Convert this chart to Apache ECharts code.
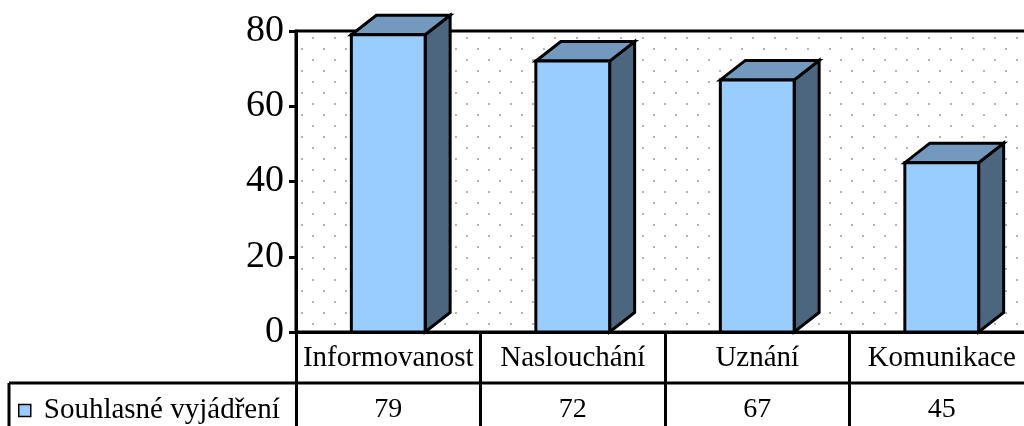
<!DOCTYPE html>
<html>
<head>
<meta charset="utf-8">
<script src="https://cdn.jsdelivr.net/npm/echarts@6/dist/echarts.min.js"></script>
<style>html,body{margin:0;padding:0;background:#fff;overflow:hidden}#c{width:1034px;height:426px}</style>
</head>
<body>
<div id="c"></div>
<script>
const categories = ['Informovanost', 'Naslouchání', 'Uznání', 'Komunikace'];
const values = [79, 72, 67, 45];
const seriesName = 'Souhlasné vyjádření';
const yMin = 0, yMax = 80, yInterval = 20;

const FONT = "'Liberation Serif', 'Times New Roman', serif";

// dotted background pattern
const pc = document.createElement('canvas');
pc.width = 22; pc.height = 22;
const pctx = pc.getContext('2d');
pctx.fillStyle = '#fff'; pctx.fillRect(0, 0, 22, 22);
pctx.fillStyle = '#b4b4b4';
pctx.fillRect(4, 15, 2, 2);
pctx.fillRect(15, 4, 2, 2);

const chart = echarts.init(document.getElementById('c'), null, {renderer: 'canvas'});

const DX = 25, DY = 19.5;
const LW = 3;

chart.setOption({
  backgroundColor: '#fff',
  animation: false,
  grid: {
    left: 296, top: 31, right: 0, height: 301,
    show: true, borderColor: '#000', borderWidth: LW,
    backgroundColor: {image: pc, repeat: 'repeat'}
  },
  legend: {
    left: 18, top: 396, padding: 0,
    itemWidth: 12, itemHeight: 12,
    data: [{name: seriesName, icon: 'rect', itemStyle: {color: '#99CCFF', borderColor: '#000', borderWidth: 1.5}}],
    textStyle: {fontFamily: FONT, fontSize: 29, color: '#000', padding: [6, 0, 0, 8]}
  },
  xAxis: {
    type: 'category', data: categories, boundaryGap: true,
    axisLine: {show: true, lineStyle: {color: '#000', width: LW}},
    axisTick: {show: true, interval: 0, length: 94, lineStyle: {color: '#000', width: LW}},
    axisLabel: {interval: 0, fontFamily: FONT, fontSize: 29, color: '#000', margin: 12},
    splitLine: {show: false}
  },
  yAxis: {
    type: 'value', min: yMin, max: yMax, interval: yInterval,
    axisLine: {show: true, lineStyle: {color: '#000', width: LW}},
    axisTick: {show: true, length: 7, lineStyle: {color: '#000', width: LW}},
    axisLabel: {fontFamily: FONT, fontSize: 38, color: '#000', margin: 12},
    splitLine: {show: false}
  },
  graphic: [
    {type: 'line', shape: {x1: 9, y1: 383, x2: 1034, y2: 383}, style: {stroke: '#000', lineWidth: LW}, z: 100},
    {type: 'line', shape: {x1: 9, y1: 383, x2: 9, y2: 430}, style: {stroke: '#000', lineWidth: LW}, z: 100}
  ],
  series: [{
    type: 'custom',
    name: seriesName,
    clip: false,
    itemStyle: {color: '#99CCFF'},
    data: values.map((v, i) => [i, v]),
    renderItem: function (params, api) {
      const i = api.value(0), v = api.value(1);
      const base = api.coord([i, 0]);
      const top = api.coord([i, v]);
      const bw = api.size([1, 0])[0] * 0.4;
      const x0 = base[0] - bw / 2, x1 = base[0] + bw / 2;
      const yb = base[1], yt = top[1];
      const stroke = {stroke: '#000', lineWidth: LW, lineJoin: 'miter'};
      return {
        type: 'group',
        children: [
          {type: 'polygon', shape: {points: [[x1, yt], [x1 + DX, yt - DY], [x1 + DX, yb - DY], [x1, yb]]},
            style: Object.assign({fill: '#4D6680'}, stroke)},
          {type: 'polygon', shape: {points: [[x0, yt], [x1, yt], [x1 + DX, yt - DY], [x0 + DX, yt - DY]]},
            style: Object.assign({fill: '#7399BF'}, stroke)},
          {type: 'rect', shape: {x: x0, y: yt, width: bw, height: yb - yt},
            style: Object.assign({fill: '#99CCFF'}, stroke)},
          {type: 'text', style: {text: String(v), x: base[0], y: yb + 78, align: 'center', verticalAlign: 'middle',
            font: '28px ' + FONT, fill: '#000'}}
        ]
      };
    }
  }]
});
</script>
</body>
</html>
